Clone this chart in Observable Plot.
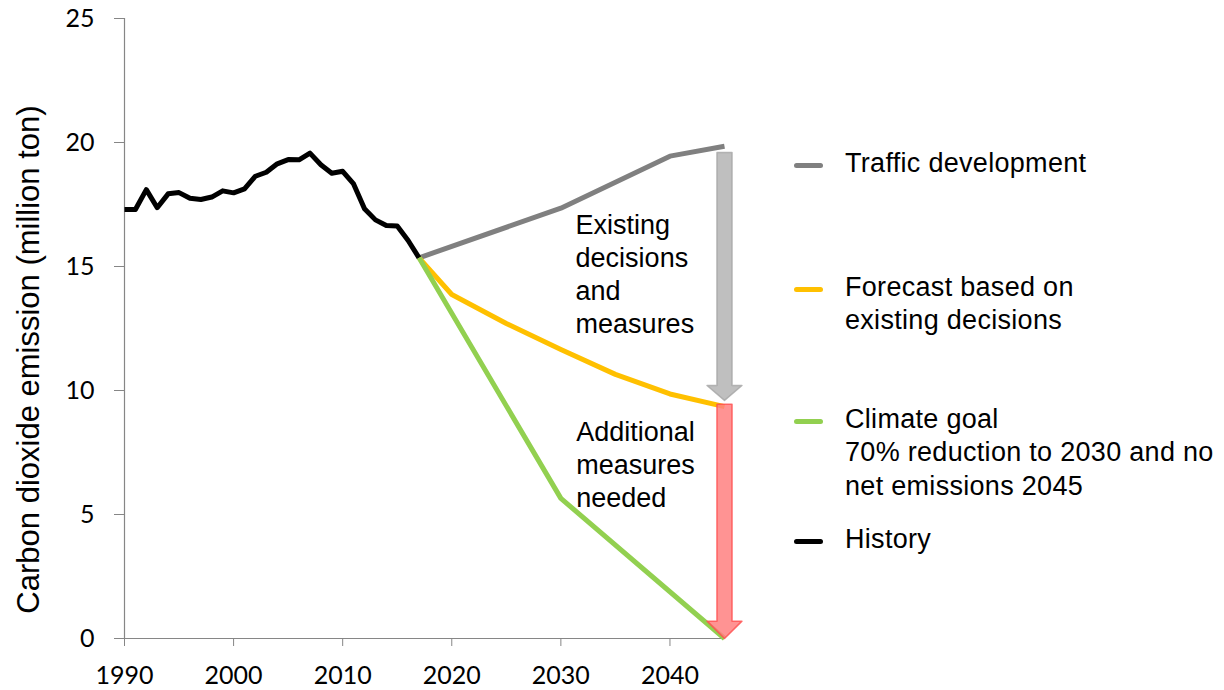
<!DOCTYPE html>
<html>
<head>
<meta charset="utf-8">
<script src="https://cdn.jsdelivr.net/npm/d3@7"></script>
<script src="https://cdn.jsdelivr.net/npm/@observablehq/plot@0.6"></script>
<style>
  html, body { margin: 0; padding: 0; background: #fff; }
  #chart { position: relative; width: 1224px; height: 690px; overflow: hidden; }
  .legend-item {
    position: absolute; left: 794px; padding-left: 51px;
    font-family: "Liberation Sans", Arial, sans-serif; font-size: 27px;
    line-height: 33.3px; color: #000; white-space: pre-line; letter-spacing: 0.3px;
  }
  .legend-item .swatch {
    position: absolute; left: 0; width: 29px; height: 5px; border-radius: 2.5px;
  }
</style>
</head>
<body>
<div id="chart"></div>
<script>
// Road traffic CO2 emissions, million tonnes
const historyYears = [1990, 1991, 1992, 1993, 1994, 1995, 1996, 1997, 1998, 1999,
                      2000, 2001, 2002, 2003, 2004, 2005, 2006, 2007, 2008, 2009,
                      2010, 2011, 2012, 2013, 2014, 2015, 2016, 2017];
const historyValues = [17.3, 17.3, 18.1, 17.37, 17.93, 17.98, 17.75, 17.7, 17.8, 18.05,
                       17.97, 18.13, 18.64, 18.8, 19.14, 19.31, 19.3, 19.57, 19.1, 18.76,
                       18.84, 18.33, 17.33, 16.88, 16.65, 16.63, 16.05, 15.35];

const trafficYears = [2017, 2030, 2040, 2045];
const trafficValues = [15.35, 17.35, 19.45, 19.85];

const forecastYears = [2017, 2020, 2025, 2030, 2035, 2040, 2045];
const forecastValues = [15.35, 13.87, 12.7, 11.65, 10.65, 9.86, 9.35];

const goalYears = [2017, 2030, 2045];
const goalValues = [15.35, 5.65, 0];

// Gap arrows at 2045: from traffic development down to the forecast, then on to zero
const arrowYear = 2045;
const arrowFrom = [19.6, 9.45];
const arrowTo = [9.6, 0];
const arrowFill = ["#bfbfbf", "#ff8080"];
const arrowStroke = ["#a6a6a6", "#ff4d4d"];

const annotationTexts = ["Existing\ndecisions\nand\nmeasures", "Additional\nmeasures\nneeded"];

const seriesNames = [
  "Traffic development",
  "Forecast based on\nexisting decisions",
  "Climate goal\n70% reduction to 2030 and no\nnet emissions 2045",
  "History"
];
const seriesColors = ["#808080", "#ffc000", "#92d050", "#000000"];

const xTicks = [1990, 2000, 2010, 2020, 2030, 2040];
const yTicks = [0, 5, 10, 15, 20, 25];
const yLabel = "Carbon dioxide emission (million ton)";

const toRows = (years, values) => years.map((year, i) => ({year, value: values[i]}));

// Block arrow outline in data units (shaft and head widths in years, head length in tonnes)
function blockArrow(xc, from, to, headLen) {
  const sw = 0.69, hw = 1.6;
  const neck = to + headLen;
  return [
    {year: xc - sw, value: from}, {year: xc + sw, value: from},
    {year: xc + sw, value: neck}, {year: xc + hw, value: neck},
    {year: xc, value: to},
    {year: xc - hw, value: neck}, {year: xc - sw, value: neck}
  ];
}

const lineStyle = {x: "year", y: "value", strokeWidth: 5, strokeLinejoin: "round", strokeLinecap: "butt"};
const axisGray = "#868686";
const textFont = "Liberation Sans, Arial, sans-serif";

const annotations = [
  {text: annotationTexts[0], year: 2031.35, value: 17.28},
  {text: annotationTexts[1], year: 2031.4, value: 8.92}
];

const plot = Plot.plot({
  width: 1224,
  height: 690,
  marginLeft: 124,
  marginRight: 500,
  marginTop: 18,
  marginBottom: 52,
  x: {domain: [1990, 2045]},
  y: {domain: [0, 25]},
  style: {fontFamily: "Lato, sans-serif", fontSize: "25px", color: "#000", background: "#fff", overflow: "visible"},
  marks: [
    Plot.ruleX([1990], {stroke: axisGray, strokeWidth: 1.2}),
    Plot.ruleY([0], {stroke: axisGray, strokeWidth: 1.2}),
    Plot.axisY({ticks: yTicks, tickSize: 10, tickPadding: 20, stroke: axisGray, label: null,
                fontSize: 25, fontFamily: "Lato, sans-serif"}),
    Plot.axisX({ticks: xTicks, tickSize: 8, tickPadding: 20, stroke: axisGray, label: null,
                tickFormat: d => String(d), fontSize: 25, fontFamily: "Lato, sans-serif"}),
    Plot.line(toRows(trafficYears, trafficValues), {...lineStyle, stroke: seriesColors[0]}),
    Plot.line(toRows(forecastYears, forecastValues), {...lineStyle, stroke: seriesColors[1]}),
    Plot.line(toRows(historyYears, historyValues), {...lineStyle, stroke: seriesColors[3]}),
    Plot.line(blockArrow(arrowYear, arrowFrom[0], arrowTo[0], 0.6), {
      x: "year", y: "value", curve: "linear-closed",
      fill: arrowFill[0], stroke: arrowStroke[0], strokeWidth: 1.5, strokeOpacity: 0.8
    }),
    Plot.line(toRows(goalYears, goalValues), {...lineStyle, stroke: seriesColors[2]}),
    Plot.line(blockArrow(arrowYear, arrowFrom[1], arrowTo[1], 0.7), {
      x: "year", y: "value", curve: "linear-closed",
      fill: arrowFill[1], fillOpacity: 0.85, stroke: arrowStroke[1], strokeWidth: 1.5, strokeOpacity: 0.8
    }),
    Plot.text(annotations, {
      x: "year", y: "value", text: "text", textAnchor: "start", lineAnchor: "top",
      lineHeight: 1.233, fontSize: 27, fontFamily: textFont, fill: "#000"
    }),
    Plot.text([yLabel], {
      frameAnchor: "left", textAnchor: "middle", rotate: -90, dx: -95, dy: 31,
      fontSize: 31, fontFamily: textFont, fill: "#000"
    })
  ]
});

const chart = document.getElementById("chart");
chart.appendChild(plot);

// Legend to the right of the plot area
const legendTops = [147, 271, 403, 523];
seriesNames.forEach((name, i) => {
  const item = document.createElement("div");
  item.className = "legend-item";
  item.style.top = legendTops[i] + "px";
  const sw = document.createElement("span");
  sw.className = "swatch";
  sw.style.background = seriesColors[i];
  sw.style.top = "16px";
  item.appendChild(sw);
  item.appendChild(document.createTextNode(name));
  chart.appendChild(item);
});
</script>
</body>
</html>
